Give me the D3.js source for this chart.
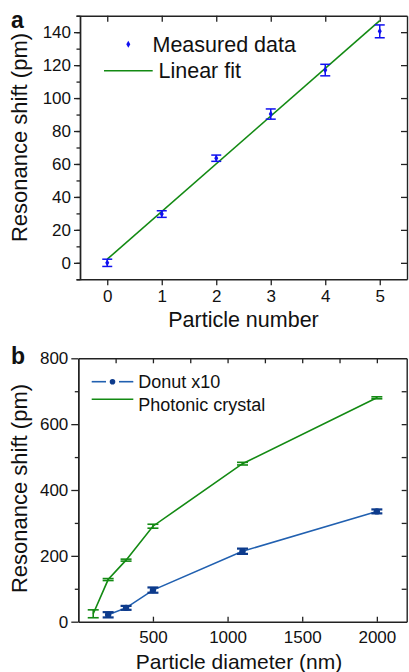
<!DOCTYPE html>
<html>
<head>
<meta charset="utf-8">
<script src="https://cdn.jsdelivr.net/npm/d3@7"></script>
<style>
  body { margin: 0; background: #fff; }
  text { font-family: "Liberation Sans", Arial, sans-serif; fill: #111; }
</style>
</head>
<body>
<script>
const width = 409, height = 672;

// panel a data
const particleNumber = [0, 1, 2, 3, 4, 5];
const measuredShift = [0, 29.6, 63.5, 90.3, 117, 140.5];
const measuredErr = [2.2, 2, 1.9, 3.1, 3.5, 3.9];
const fitX = [0, 5];
const fitY = [2.2, 147];

// panel b data
const donutDiameter = [200, 320, 500, 1100, 2000];
const donutShift = [21, 42, 96, 214, 335];
const donutErr = [8, 6, 8, 8, 6];
const pcDiameter = [100, 200, 320, 500, 1100, 2000];
const pcShift = [24, 128, 187, 290, 480, 680];
const pcErr = [12, 3, 3, 6, 4, 3];

const blue = '#1010f0', green = '#138a13', navy = '#0d3b8c', navyLine = '#2160b0';
const intFmt = d3.format('d');

let svg = d3
  .select('body')
  .append('svg')
  .attr('width', width)
  .attr('height', height)
  .style('background-color', '#fff');

// style helper for axes
function styleAxis(g) {
  g.selectAll('path').attr('stroke', '#222').attr('stroke-width', 1.4);
  g.selectAll('line').attr('stroke', '#222').attr('stroke-width', 1.3);
  g.selectAll('text').style('font-size', '17px').attr('fill', '#111');
}

// ---------- panel a ----------
const ax = d3.scaleLinear().domain([-0.5, 5.5]).range([80, 407]);
const ay = d3.scaleLinear().domain([-10, 150]).range([279.3, 15.7]);

// minor ticks on left
svg.append('g')
  .attr('transform', 'translate(80,0)')
  .call(d3.axisLeft(ay).tickValues(d3.range(-10, 151, 10)).tickSize(3.5).tickFormat(''))
  .call(styleAxis);
svg.append('g')
  .attr('transform', 'translate(80,0)')
  .call(d3.axisLeft(ay).tickValues(d3.range(0, 141, 20)).tickSize(6).tickPadding(3).tickSizeOuter(0).tickFormat(intFmt))
  .call(styleAxis);
svg.append('g')
  .attr('transform', 'translate(0,279.3)')
  .call(d3.axisBottom(ax).tickValues(particleNumber).tickSize(6).tickPadding(5).tickSizeOuter(0).tickFormat(intFmt))
  .call(styleAxis);
svg.append('g')
  .attr('transform', 'translate(0,15.7)')
  .call(d3.axisTop(ax).tickValues(particleNumber).tickSize(-6).tickFormat('').tickSizeOuter(0))
  .call(styleAxis);
svg.append('g')
  .attr('transform', 'translate(407,0)')
  .call(d3.axisRight(ay).tickValues(d3.range(0, 141, 20)).tickSize(-6).tickFormat('').tickSizeOuter(0))
  .call(styleAxis);

// fit line
svg.append('path')
  .datum(fitX.map((x, i) => [x, fitY[i]]))
  .attr('fill', 'none')
  .attr('stroke', green)
  .attr('stroke-width', 1.6)
  .attr('d', d3.line().x(d => ax(d[0])).y(d => ay(d[1])));

// error bars a
const aPts = particleNumber.map((x, i) => ({ x: x, y: measuredShift[i], e: measuredErr[i] }));
let ea = svg.append('g').attr('stroke', blue).attr('stroke-width', 1.5).attr('fill', 'none');
aPts.forEach(function (d) {
  const cx = ax(d.x);
  ea.append('line').attr('x1', cx).attr('x2', cx).attr('y1', ay(d.y - d.e)).attr('y2', ay(d.y + d.e));
  ea.append('line').attr('x1', cx - 5).attr('x2', cx + 5).attr('y1', ay(d.y - d.e)).attr('y2', ay(d.y - d.e));
  ea.append('line').attr('x1', cx - 5).attr('x2', cx + 5).attr('y1', ay(d.y + d.e)).attr('y2', ay(d.y + d.e));
});
svg.append('g')
  .selectAll('path')
  .data(aPts)
  .enter()
  .append('path')
  .attr('transform', d => 'translate(' + ax(d.x) + ',' + ay(d.y) + ')')
  .attr('d', d3.symbol(d3.symbolDiamond, 14))
  .attr('fill', blue);

// legend a
svg.append('path')
  .attr('transform', 'translate(128.3,44.3)')
  .attr('d', d3.symbol(d3.symbolDiamond, 14))
  .attr('fill', blue);
svg.append('text').attr('x', 152.5).attr('y', 51.7).style('font-size', '21.5px').text('Measured data');
svg.append('line').attr('x1', 104).attr('x2', 152.7).attr('y1', 70.7).attr('y2', 70.7)
  .attr('stroke', green).attr('stroke-width', 1.6);
svg.append('text').attr('x', 158.5).attr('y', 78.3).style('font-size', '21.5px').text('Linear fit');

// titles a
svg.append('text').attr('x', 243.5).attr('y', 327).attr('text-anchor', 'middle')
  .style('font-size', '21.5px').text('Particle number');
svg.append('text').attr('transform', 'translate(26.5,137.5) rotate(-90)').attr('text-anchor', 'middle')
  .style('font-size', '22px').text('Resonance shift (pm)');
svg.append('text').attr('x', 11).attr('y', 28).style('font-size', '23px').style('font-weight', 'bold').text('a');

// ---------- panel b ----------
const bx = d3.scaleLinear().domain([0, 2200]).range([78.3, 406.7]);
const by = d3.scaleLinear().domain([0, 800]).range([621.7, 358.3]);

svg.append('g')
  .attr('transform', 'translate(78.3,0)')
  .call(d3.axisLeft(by).tickValues(d3.range(100, 800, 200)).tickSize(3.5).tickFormat('').tickSizeOuter(0))
  .call(styleAxis);
svg.append('g')
  .attr('transform', 'translate(78.3,0)')
  .call(d3.axisLeft(by).tickValues(d3.range(0, 801, 200)).tickSize(7).tickPadding(3).tickSizeOuter(0).tickFormat(intFmt))
  .call(styleAxis);
svg.append('g')
  .attr('transform', 'translate(0,621.7)')
  .call(d3.axisBottom(bx).tickValues(d3.range(500, 2001, 500)).tickSizeInner(-5).tickPadding(9.5).tickSizeOuter(0).tickFormat(intFmt))
  .call(styleAxis);
svg.append('g')
  .attr('transform', 'translate(0,358.3)')
  .call(d3.axisTop(bx).tickValues(d3.range(250, 2001, 250)).tickSize(-5).tickFormat('').tickSizeOuter(0))
  .call(styleAxis);
svg.append('g')
  .attr('transform', 'translate(406.7,0)')
  .call(d3.axisRight(by).tickValues(d3.range(100, 800, 100)).tickSize(-5).tickFormat('').tickSizeOuter(0))
  .call(styleAxis);

const bLine = d3.line().x(d => bx(d.x)).y(d => by(d.y));
const pcPts = pcDiameter.map((x, i) => ({ x: x, y: pcShift[i], e: pcErr[i] }));
const dnPts = donutDiameter.map((x, i) => ({ x: x, y: donutShift[i], e: donutErr[i] }));

svg.append('path').datum(pcPts).attr('fill', 'none').attr('stroke', green).attr('stroke-width', 1.6).attr('d', bLine);
svg.append('path').datum(dnPts).attr('fill', 'none').attr('stroke', navyLine).attr('stroke-width', 1.6).attr('d', bLine);

function errorBars(pts, color, sw) {
  let g = svg.append('g').attr('stroke', color).attr('stroke-width', sw).attr('fill', 'none');
  pts.forEach(function (d) {
    const cx = bx(d.x);
    g.append('line').attr('x1', cx).attr('x2', cx).attr('y1', by(d.y - d.e)).attr('y2', by(d.y + d.e));
    g.append('line').attr('x1', cx - 5.5).attr('x2', cx + 5.5).attr('y1', by(d.y - d.e)).attr('y2', by(d.y - d.e));
    g.append('line').attr('x1', cx - 5.5).attr('x2', cx + 5.5).attr('y1', by(d.y + d.e)).attr('y2', by(d.y + d.e));
  });
}
errorBars(pcPts, green, 1.6);
errorBars(dnPts, navy, 2.2);

svg.append('g')
  .selectAll('circle')
  .data(dnPts)
  .enter()
  .append('circle')
  .attr('cx', d => bx(d.x))
  .attr('cy', d => by(d.y))
  .attr('r', 3.2)
  .attr('fill', navy);

// legend b
svg.append('line').attr('x1', 91.7).attr('x2', 106).attr('y1', 381.7).attr('y2', 381.7)
  .attr('stroke', navyLine).attr('stroke-width', 1.6);
svg.append('line').attr('x1', 119).attr('x2', 133.3).attr('y1', 381.7).attr('y2', 381.7)
  .attr('stroke', navyLine).attr('stroke-width', 1.6);
svg.append('circle').attr('cx', 112.5).attr('cy', 381.7).attr('r', 2.8).attr('fill', navy);
svg.append('text').attr('x', 138.3).attr('y', 388).style('font-size', '18px').text('Donut x10');
svg.append('line').attr('x1', 91.7).attr('x2', 133.3).attr('y1', 399.3).attr('y2', 399.3)
  .attr('stroke', green).attr('stroke-width', 1.6);
svg.append('text').attr('x', 138.3).attr('y', 411).style('font-size', '18px').text('Photonic crystal');

// titles b
svg.append('text').attr('x', 239).attr('y', 669).attr('text-anchor', 'middle')
  .style('font-size', '21px').text('Particle diameter (nm)');
svg.append('text').attr('transform', 'translate(26.5,488.5) rotate(-90)').attr('text-anchor', 'middle')
  .style('font-size', '22px').text('Resonance shift (pm)');
svg.append('text').attr('x', 11).attr('y', 364).style('font-size', '23px').style('font-weight', 'bold').text('b');
</script>
</body>
</html>
